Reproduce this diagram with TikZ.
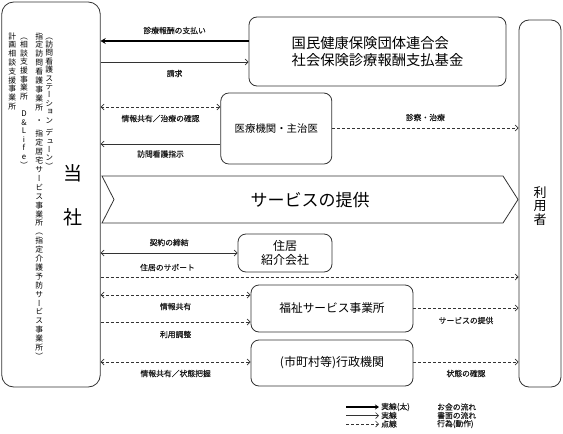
\documentclass[tikz,border=0pt]{standalone}
\usepackage{fontspec}
\setmainfont{Noto Sans CJK JP}
\newfontfamily\vjp[RawFeature=+vert]{Noto Sans CJK JP}
\newfontfamily\jpl[FakeBold=0.35]{Noto Sans CJK JP}
\usetikzlibrary{arrows.meta}
\makeatletter
\newdimen\vt@p
\def\hg{\hg}
\def\vt@end{\vt@end}
\def\vtext#1#2{\vt@p=#1\relax\vbox{\baselineskip=\vt@p\lineskiplimit=-\maxdimen\lineskip=0pt\vt@loop#2\vt@end}}
\def\vt@loop#1{%
  \ifx#1\vt@end\let\vt@next\relax
  \else
    \ifx#1\hg\kern.5\vt@p\else\hbox to 1em{\hss\vrule width0pt height.88em depth.12em#1\hss}\fi
    \let\vt@next\vt@loop
  \fi\vt@next}
\makeatother
\begin{document}
\begin{tikzpicture}[x=1pt,y=-1pt,
  box/.style={draw=black!80, line width=0.8pt, rounded corners=8pt, fill=white, inner sep=0pt, align=center},
  lab/.style={font=\jpl\fontsize{7.8}{9}\selectfont, inner sep=0pt, text=black!90},
  labA/.style={lab, yshift=10.5pt},
  labB/.style={lab, yshift=-11.5pt},
  thin/.style={draw=black!80, line width=0.7pt},
  thk/.style={draw=black, line width=1.6pt, -{Stealth[length=5pt,width=6pt]}},
  ar/.style={-{Straight Barb[length=3pt,width=6pt]}},
  dar/.style={{Straight Barb[length=3pt,width=6pt]}-{Straight Barb[length=3pt,width=6pt]}},
  dsh/.style={dash pattern=on 3pt off 2pt},
  vcol/.style={anchor=north, inner sep=0pt, font=\vjp\fontsize{7.8}{8.7}\selectfont},
]
\useasboundingbox (0,0) rectangle (563,434);

% main boxes
\node[box, rounded corners=12pt, minimum width=98.5pt, minimum height=385pt] (tousha) at (51,194.5) {};
\node[box, rounded corners=10pt, minimum width=42pt, minimum height=367pt] (user) at (540,203.5) {};
\node[font=\fontsize{13}{13.3}\selectfont, align=center, inner sep=0pt] (userlab) at (540,206) {利\\用\\者};

\node[box, minimum width=257pt, minimum height=69pt, align=left, font=\fontsize{14.3}{17}\selectfont] (kokumin) at (377.5,51.5) {国民健康保険団体連合会\\社会保険診療報酬支払基金};
\node[box, minimum width=111pt, minimum height=71pt, font=\fontsize{10.4}{12}\selectfont] (iryo) at (276.3,128.5) {医療機関・主治医};
\node[box, minimum width=94pt, minimum height=38pt, font=\fontsize{12}{13.4}\selectfont] (jukyo) at (285,253) {住居\\紹介会社};
\node[box, minimum width=162pt, minimum height=47pt, font=\fontsize{11.7}{13}\selectfont] (fukushi) at (332,308.5) {福祉サービス事業所};
\node[box, minimum width=162pt, minimum height=46pt, font=\fontsize{12}{13}\selectfont] (gyosei) at (332,363) {(市町村等)行政機関};

% service band
\draw[draw=black!80, line width=0.8pt, fill=white] (102,176) -- (503,176) -- (518,199.5) -- (503,223) -- (102,223) -- (114,199.5) -- cycle;
\node[font=\fontsize{17}{17}\selectfont, inner sep=0pt] (band) at (310,200) {サービスの提供};

% left box texts
\node[font=\fontsize{19}{19}\selectfont, inner sep=0pt] (to) at (73,173) {当};
\node[font=\fontsize{19}{19}\selectfont, inner sep=0pt] (sha) at (73,217) {社};
\node[vcol] (c1) at (49.3,32) {\vtext{8.4pt}{（訪問看護ステーション\hg デューン）}};
\node[vcol] (c2) at (39.3,32) {\vtext{8.9pt}{指定訪問看護事業所\hg・\hg 指定居宅サービス事業所（指定介護予防サービス事業所）}};
\node[vcol] (c3) at (24,32) {\vtext{8.6pt}{（相談支援事業所\hg\hg D\&Life）}};
\node[vcol] (c4) at (12.3,32) {\vtext{8.8pt}{計画相談支援事業所}};

% connectors
\draw[thk] (kokumin.west |- 0,41) -- (tousha.east |- 0,41) node[labA, midway] {診療報酬の支払い};
\draw[thin, ar] (tousha.east |- 0,62) -- (kokumin.west |- 0,62) node[labB, midway] {請求};
\draw[thin, dsh, dar] (tousha.east |- 0,107) -- (iryo.west |- 0,107) node[labB, midway] {情報共有／治療の確認};
\draw[thin, ar] (iryo.west |- 0,144) -- (tousha.east |- 0,144) node[labB, midway, yshift=1.5pt] {訪問看護指示};
\draw[thin, dsh, ar] (iryo.east |- 0,128) -- (user.west |- 0,128) node[labA, midway] {診察・治療};
\draw[thin, dar] (tousha.east |- 0,253) -- (jukyo.west |- 0,253) node[labA, midway] {契約の締結};
\draw[thin, dsh, ar] (tousha.east |- 0,277) -- (user.west |- 0,277) node[labA, pos=0.16, yshift=-1pt] {住居のサポート};
\draw[thin, dsh, dar] (tousha.east |- 0,295) -- (fukushi.west |- 0,295) node[labB, midway] {情報共有};
\draw[thin, dsh, ar] (tousha.east |- 0,322) -- (fukushi.west |- 0,322) node[labB, midway, yshift=-1pt] {利用調整};
\draw[thin, dsh, ar] (fukushi.east |- 0,308) -- (user.west |- 0,308) node[labB, midway, yshift=-1pt] {サービスの提供};
\draw[thin, dsh, dar] (tousha.east |- 0,362) -- (gyosei.west |- 0,362) node[labB, midway] {情報共有／状態把握};
\draw[thin, dsh, ar] (gyosei.east |- 0,362) -- (user.west |- 0,362) node[labB, midway] {状態の確認};

% legend
\coordinate (l1a) at (346,407); \coordinate (l1b) at (379,407);
\coordinate (l2a) at (346,415.5); \coordinate (l2b) at (379,415.5);
\coordinate (l3a) at (346,424); \coordinate (l3b) at (379,424);
\draw[draw=black, line width=1.3pt, -{Stealth[length=4pt,width=5pt]}] (l1a) -- (l1b);
\draw[thin, ar] (l2a) -- (l2b);
\draw[thin, dsh, ar] (l3a) -- (l3b);
\node[lab, anchor=west] (k1) at (381,407) {実線(太)};
\node[lab, anchor=west] (k2) at (381,415.5) {実線};
\node[lab, anchor=west] (k3) at (381,424) {点線};
\node[lab, anchor=west] (m1) at (437,407) {お金の流れ};
\node[lab, anchor=west] (m2) at (437,415.5) {書面の流れ};
\node[lab, anchor=west] (m3) at (437,424) {行為(動作)};
\end{tikzpicture}
\end{document}
